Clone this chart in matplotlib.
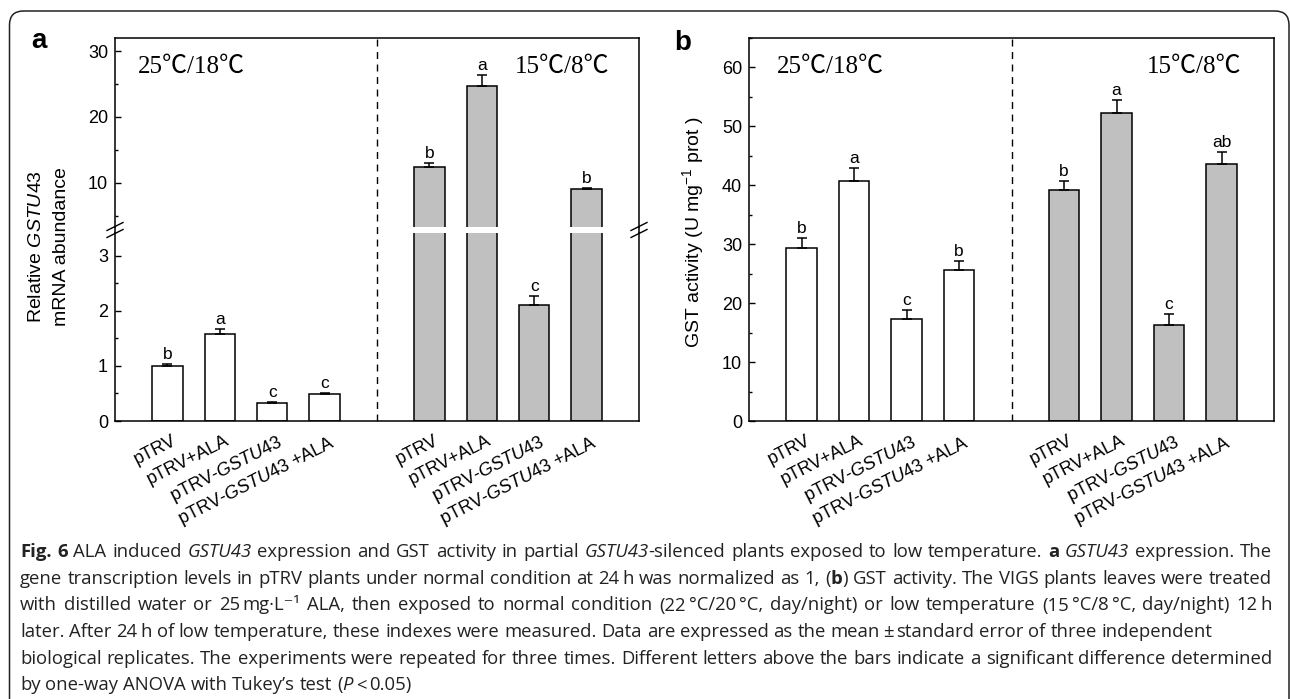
import numpy as np
import matplotlib
matplotlib.use("Agg")
import matplotlib.pyplot as plt
from matplotlib.lines import Line2D
from matplotlib.patches import FancyBboxPatch
from matplotlib.transforms import IdentityTransform, blended_transform_factory, ScaledTranslation
from matplotlib.ticker import MultipleLocator

# ---------------- data ----------------
categories = ["pTRV", "pTRV+ALA", "pTRV-GSTU43", "pTRV-GSTU43 +ALA"]
tick_labels = ["pTRV", "pTRV+ALA", r"pTRV-$\mathit{GSTU43}$", r"pTRV-$\mathit{GSTU43}$ +ALA"]
conditions = ["25℃/18℃", "15℃/8℃"]

a_normal = [1.00, 1.58, 0.32, 0.49]
a_normal_err = [0.04, 0.09, 0.02, 0.02]
a_normal_letters = ["b", "a", "c", "c"]
a_low = [12.4, 24.7, 2.10, 9.1]
a_low_err = [0.6, 1.7, 0.16, 0.12]
a_low_letters = ["b", "a", "c", "b"]

b_normal = [29.3, 40.7, 17.3, 25.6]
b_normal_err = [1.7, 2.2, 1.5, 1.5]
b_normal_letters = ["b", "a", "c", "b"]
b_low = [39.2, 52.2, 16.3, 43.6]
b_low_err = [1.6, 2.2, 1.8, 2.0]
b_low_letters = ["b", "a", "c", "ab"]

caption_lines = [
    "*Fig. 6* ALA induced _GSTU43_ expression and GST activity in partial _GSTU43_-silenced plants exposed to low temperature. *a* _GSTU43_ expression. The",
    "gene transcription levels in pTRV plants under normal condition at 24~h was normalized as 1, (*b*) GST activity. The VIGS plants leaves were treated",
    "with distilled water or 25~mg·L⁻¹ ALA, then exposed to normal condition (22~°C/20~°C, day/night) or low temperature (15~°C/8~°C, day/night) 12~h",
    "later. After 24~h of low temperature, these indexes were measured. Data are expressed as the mean~±~standard error of three independent",
    "biological replicates. The experiments were repeated for three times. Different letters above the bars indicate a significant difference determined",
    "by one-way ANOVA with Tukey’s test (_P_~<~0.05)",
]
caption_justify = [True, True, True, False, True, False]

# ---------------- style ----------------
plt.rcParams["font.family"] = ["Liberation Sans", "DejaVu Sans"]
plt.rcParams["mathtext.fontset"] = "custom"
plt.rcParams["mathtext.rm"] = "Liberation Sans"
plt.rcParams["mathtext.it"] = "Liberation Sans:italic"
plt.rcParams["mathtext.bf"] = "Liberation Sans:bold"

W, H = 1290, 699
fig = plt.figure(figsize=(W / 100, H / 100), dpi=100)


def rect(l, t, r, b):
    return [l / W, 1 - b / H, (r - l) / W, (b - t) / H]


def fx(x):
    return x / W


def fy(y):
    return 1 - y / H


axA_lo = fig.add_axes(rect(115, 233, 639, 421))
axA_hi = fig.add_axes(rect(115, 38, 639, 227))
axB = fig.add_axes(rect(749, 38, 1274, 421))

pos1 = np.arange(4)
pos2 = np.arange(4) + 5
BW = 0.58
GRAY = "#c0c0c0"
TICKFS = 13
SERIF = ["Liberation Serif", "Noto Sans CJK SC", "DejaVu Serif"]


def draw_bars(ax, normal, nerr, low, lerr):
    ax.bar(pos1, normal, width=BW, color="white", edgecolor="black", linewidth=1.1, zorder=2)
    ax.bar(pos2, low, width=BW, color=GRAY, edgecolor="black", linewidth=1.1, zorder=2)
    for p, v, e in ((pos1, normal, nerr), (pos2, low, lerr)):
        ax.errorbar(p, v, yerr=[np.zeros(len(v)), e], fmt="none", ecolor="black",
                    elinewidth=1.1, capsize=3.6, capthick=1.1, zorder=3)


def style_axis(ax):
    for s in ax.spines.values():
        s.set_linewidth(1.1)
    ax.tick_params(axis="y", which="major", direction="in", length=4.5, width=1.0,
                   labelsize=TICKFS, pad=5)
    ax.tick_params(axis="y", which="minor", direction="in", length=2.5, width=1.0)
    ax.tick_params(axis="x", length=0)
    ax.set_xlim(-1, 9)


# ---- panel a ----
for ax in (axA_lo, axA_hi):
    draw_bars(ax, a_normal, a_normal_err, a_low, a_low_err)
    style_axis(ax)
axA_lo.set_ylim(0, 3.41)
axA_hi.set_ylim(3.33, 31.97)
axA_lo.yaxis.set_major_locator(MultipleLocator(1))
axA_lo.yaxis.set_minor_locator(MultipleLocator(0.5))
axA_hi.set_yticks([10, 20, 30])
axA_hi.yaxis.set_minor_locator(MultipleLocator(5))
axA_lo.spines["top"].set_visible(False)
axA_hi.spines["bottom"].set_visible(False)
axA_hi.set_xticks([])

# ---- panel b ----
draw_bars(axB, b_normal, b_normal_err, b_low, b_low_err)
style_axis(axB)
axB.set_ylim(0, 65)
axB.yaxis.set_major_locator(MultipleLocator(10))
axB.yaxis.set_minor_locator(MultipleLocator(5))
axB.axvline(4, color="black", lw=1.0, ls=(0, (5, 4)), zorder=1)

# x tick labels
for ax in (axA_lo, axB):
    ax.set_xticks(list(pos1) + list(pos2))
    ax.set_xticklabels(tick_labels + tick_labels, rotation=27, ha="right", va="top",
                       rotation_mode="anchor", fontsize=TICKFS)
    ax.tick_params(axis="x", pad=8)
    off = ScaledTranslation(4 / 100, 0, fig.dpi_scale_trans)
    for lab in ax.get_xticklabels():
        lab.set_transform(lab.get_transform() + off)


# significance letters
def letters(axes_list, pos, vals, errs, labs):
    for p, v, e, l in zip(pos, vals, errs, labs):
        top = v + e
        ax = axes_list[0]
        if len(axes_list) > 1 and top > axes_list[0].get_ylim()[1]:
            ax = axes_list[1]
        ax.annotate(l, (p, top), xytext=(0, 1.5), textcoords="offset points",
                    ha="center", va="bottom", fontsize=12.5, zorder=4)


letters([axA_lo, axA_hi], pos1, a_normal, a_normal_err, a_normal_letters)
letters([axA_lo, axA_hi], pos2, a_low, a_low_err, a_low_letters)
letters([axB], pos1, b_normal, b_normal_err, b_normal_letters)
letters([axB], pos2, b_low, b_low_err, b_low_letters)

# condition labels
axA_hi.text(0.044, 0.845, conditions[0], transform=axA_hi.transAxes, family=SERIF,
            fontsize=18, ha="left", va="center")
axA_hi.text(0.763, 0.845, conditions[1], transform=axA_hi.transAxes, family=SERIF,
            fontsize=18, ha="left", va="center")
axB.text(0.053, 0.925, conditions[0], transform=axB.transAxes, family=SERIF,
         fontsize=18, ha="left", va="center")
axB.text(0.758, 0.925, conditions[1], transform=axB.transAxes, family=SERIF,
         fontsize=18, ha="left", va="center")

# dashed separator across broken axis in panel a
tr = blended_transform_factory(axA_lo.transData, fig.transFigure)
fig.add_artist(Line2D([4, 4], [fy(421), fy(38)], transform=tr, color="black",
                      lw=1.0, ls=(0, (5, 4))))

# spines continue through the gap + break marks
for xs in (115, 639):
    fig.add_artist(Line2D([fx(xs), fx(xs)], [fy(227), fy(233)], transform=fig.transFigure,
                          color="black", lw=1.1))
    for yc in (226.5, 233.5):
        fig.add_artist(Line2D([fx(xs - 8), fx(xs + 8)], [fy(yc + 4), fy(yc - 4)],
                              transform=fig.transFigure, color="black", lw=1.0))

# y labels
fig.text(fx(37), fy(247), r"Relative $\mathit{GSTU43}$", rotation=90, ha="center",
         va="center", fontsize=14)
fig.text(fx(62), fy(247), "mRNA abundance", rotation=90, ha="center", va="center", fontsize=14)
fig.text(fx(693), fy(232), r"GST activity (U mg$^{-1}$ prot )", rotation=90, ha="center",
         va="center", fontsize=14)

# panel letters
fig.text(fx(31), fy(48), "a", fontsize=20, fontweight="bold", ha="left", va="baseline")
fig.text(fx(674), fy(50), "b", fontsize=20, fontweight="bold", ha="left", va="baseline")

# outer rounded frame
frame = FancyBboxPatch((9.5, -30), 1279.5, H - 11 + 30, boxstyle="round,pad=0,rounding_size=14",
                       transform=IdentityTransform(), fill=False, edgecolor="#222222", lw=1.1)
fig.add_artist(frame)

# ---------------- caption ----------------
CAP_FAM = ["Open Sans", "DejaVu Sans"]
renderer = fig.canvas.get_renderer()
THIN = 3.0


def parse(line):
    words, segs, buf = [], [], ""
    bold = ital = False
    for ch in line + " ":
        if ch in "*_ ~":
            if buf:
                segs.append((buf, bold, ital))
                buf = ""
            if ch == "*":
                bold = not bold
            elif ch == "_":
                ital = not ital
            elif ch == "~":
                segs.append((None, bold, ital))
            else:
                if segs:
                    words.append(segs)
                    segs = []
        else:
            buf += ch
    return words


def mk(txt, b, i, size, x=0, y=0):
    return fig.text(x, y, txt, transform=IdentityTransform(), family=CAP_FAM, fontsize=size,
                    fontweight="bold" if b else "normal", style="italic" if i else "normal",
                    ha="left", va="baseline", color="#222222")


def seg_widths(words, size):
    out = []
    for w in words:
        ws = []
        for t, b, i in w:
            if t is None:
                ws.append(THIN)
            else:
                tt = mk(t, b, i, size)
                ws.append(tt.get_window_extent(renderer).width)
                tt.remove()
        out.append(ws)
    return out


def space_width(size):
    t1 = mk("n n", False, False, size)
    t2 = mk("nn", False, False, size)
    w = t1.get_window_extent(renderer).width - t2.get_window_extent(renderer).width
    t1.remove()
    t2.remove()
    return w


CAP_L, CAP_R = 20, 1272
TARGET4 = 1186
ref_size = 12.0
w4 = seg_widths(parse(caption_lines[3]), ref_size)
nat4 = sum(sum(w) for w in w4) + space_width(ref_size) * (len(w4) - 1)
cap_size = ref_size * TARGET4 / nat4
sp = space_width(cap_size)

baselines = [557, 584, 610.5, 637, 663.5, 690]
for line, just, yb in zip(caption_lines, caption_justify, baselines):
    words = parse(line)
    widths = seg_widths(words, cap_size)
    tot = sum(sum(w) for w in widths)
    gap = (CAP_R - CAP_L - tot) / (len(words) - 1) if just else sp
    x = CAP_L
    for w, ws in zip(words, widths):
        for (t, b, i), wd in zip(w, ws):
            if t is not None:
                mk(t, b, i, cap_size, x, H - yb)
            x += wd
        x += gap

fig.savefig("out.png", dpi=100)
